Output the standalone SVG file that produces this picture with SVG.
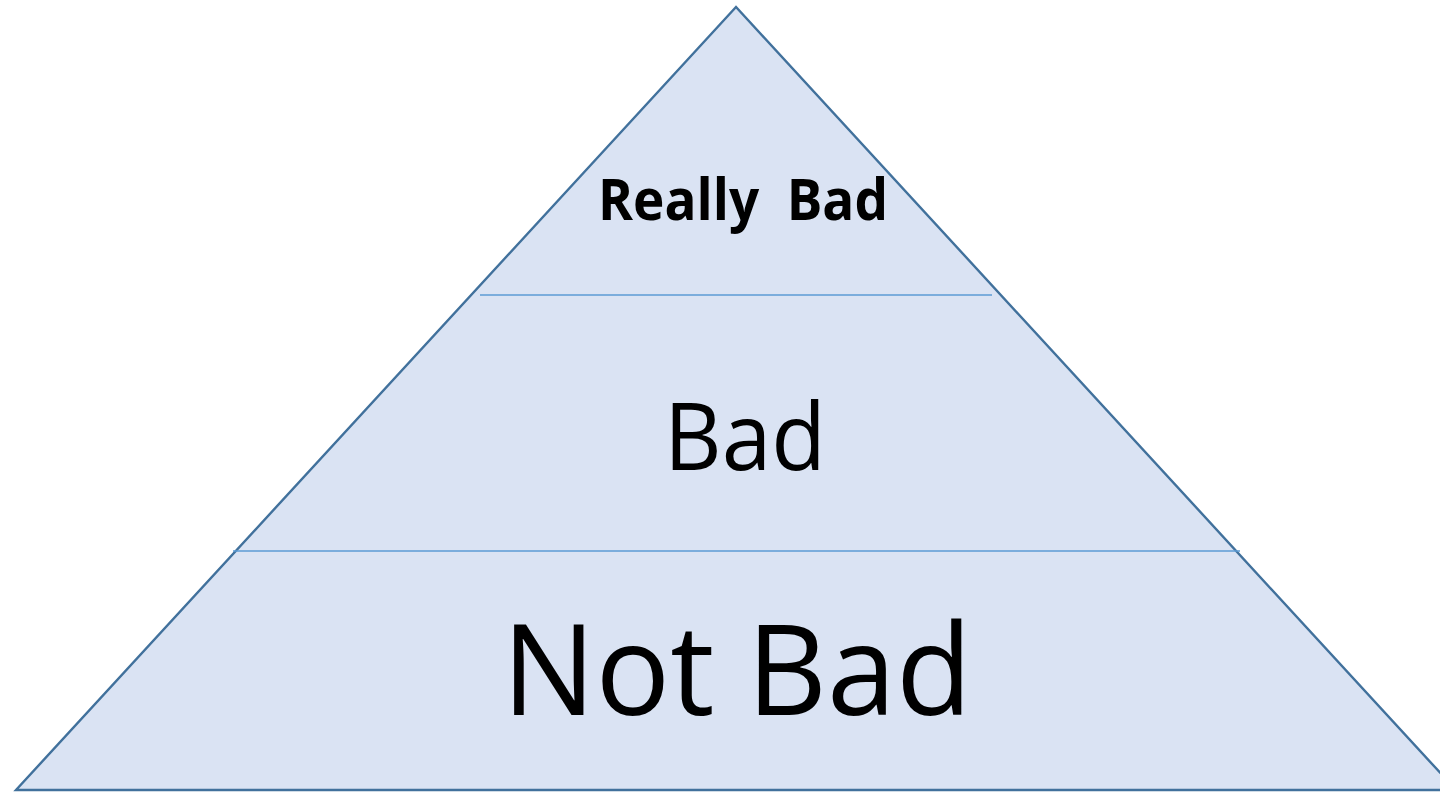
<svg xmlns="http://www.w3.org/2000/svg" width="1440" height="792" viewBox="0 0 1440 792">
<style>
.tri{fill:#DAE3F3;stroke:#41719C;stroke-width:2.4}
.div{stroke:#5B9BD5;stroke-width:1.5}
.t{font-family:"Open Sans","Liberation Sans",sans-serif;fill:#000;text-anchor:middle}
</style>
<rect width="1440" height="792" fill="#fff"/>
<g id="pyramid">
<polygon class="tri" points="736,7 16,790 1456,790"/>
</g>
<g id="connectors">
<line class="div" x1="480" y1="295" x2="992" y2="295"/>
<line class="div" x1="233" y1="551" x2="1240" y2="551"/>
</g>
<g id="really-bad"><text class="t" x="743" y="220" font-size="58" font-weight="bold" textLength="290" lengthAdjust="spacingAndGlyphs" xml:space="preserve">Really  Bad</text></g>
<g id="bad"><text class="t" x="745" y="470" font-size="94" textLength="162" lengthAdjust="spacingAndGlyphs">Bad</text></g>
<g id="not-bad"><text class="t" x="737" y="715" font-size="126" textLength="470" lengthAdjust="spacingAndGlyphs">Not Bad</text></g>
</svg>
